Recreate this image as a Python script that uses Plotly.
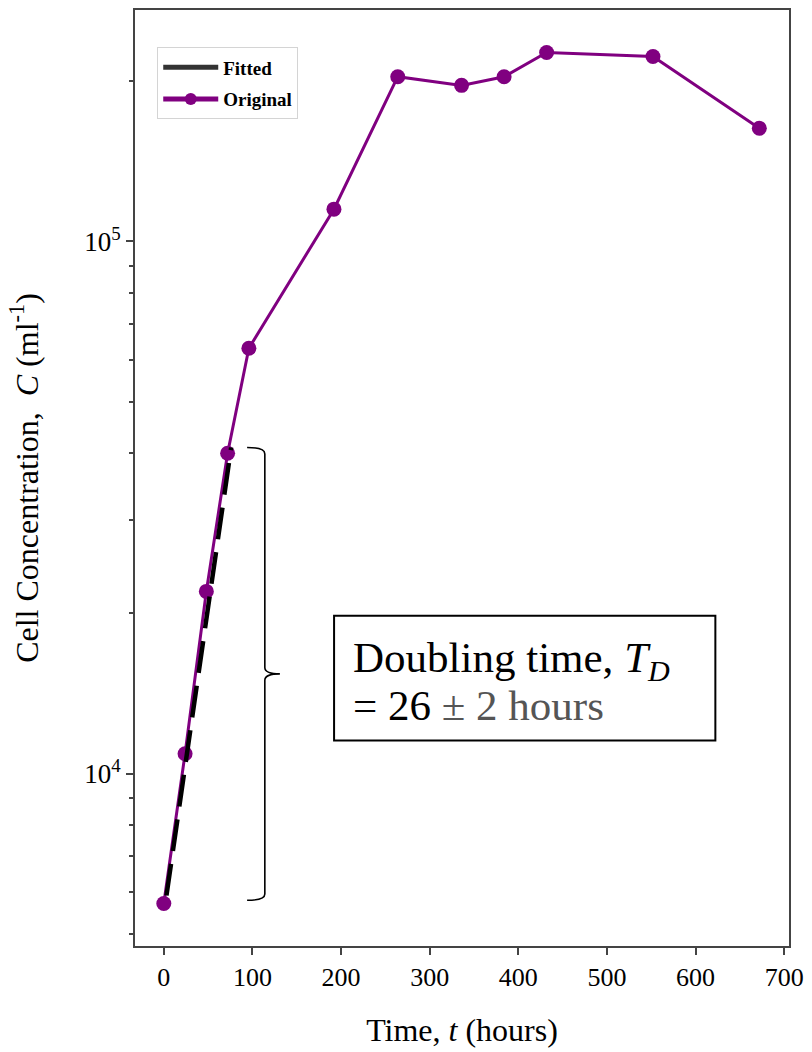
import numpy as np
import plotly.graph_objects as go

# Culture time points (hours) and measured cell concentration (cells per ml)
time_h = [0, 24, 48, 72, 96, 192, 264, 336, 384, 432, 552, 672]
conc_ml = [5700, 10900, 22000, 40000, 63000, 115000, 204000, 196500, 204000, 226500, 222600, 163200]

# Exponential-phase fit, end points of the fitted line
fit_time_h = [3, 76]
fit_conc_ml = [5900, 41000]

# Bracket marking the fitted region: concentration span and time positions
bracket_conc = [5780, 41000]
bracket_time = [94, 114, 131]  # hook ends, spine, tip

x_ticks = [0, 100, 200, 300, 400, 500, 600, 700]
y_ticks = [1e4, 1e5]
y_tick_text = ["10<sup>4</sup>", "10<sup>5</sup>"]
y_minor_ticks = [5000, 6000, 7000, 8000, 9000,
                 20000, 30000, 40000, 50000, 60000, 70000, 80000, 90000, 200000]

x_range = [-32.5, 705.5]
y_range_log = [3.676, 5.435]

SERIF = "Liberation Serif, Times New Roman, serif"
PURPLE = "#800080"
AXIS = "#444444"


def paper_y(c):
    """Concentration -> paper fraction on the log y axis."""
    return (np.log10(c) - y_range_log[0]) / (y_range_log[1] - y_range_log[0])


fig = go.Figure()

# legend sample for the fit (solid), the plotted fit itself is dashed
fig.add_trace(go.Scatter(x=[None], y=[None], mode="lines", name="Fitted",
                         legendgroup="fit",
                         line=dict(color="#333333", width=1.5)))

fig.add_trace(go.Scatter(x=time_h, y=conc_ml, mode="lines+markers", name="Original",
                         legendgroup="orig",
                         line=dict(color=PURPLE, width=3),
                         marker=dict(color=PURPLE, size=15)))

fig.add_trace(go.Scatter(x=fit_time_h, y=fit_conc_ml, mode="lines",
                         showlegend=False,
                         line=dict(color="black", width=4.5, dash="32px,13px")))

# curly bracket beside the fitted segment
yt = paper_y(bracket_conc[1])
yb = paper_y(bracket_conc[0])
ym = (yt + yb) / 2
d = 0.0068
xe, xs, xt = bracket_time
path = (f"M {xe},{yt} Q {xs},{yt} {xs},{yt - d} "
        f"L {xs},{ym + d} Q {xs},{ym} {xt},{ym} "
        f"Q {xs},{ym} {xs},{ym - d} "
        f"L {xs},{yb + d} Q {xs},{yb} {xe},{yb}")
fig.add_shape(type="path", path=path, xref="x", yref="paper",
              line=dict(color="black", width=1.6))

# text box with the doubling time
fig.add_shape(type="rect", xref="paper", yref="paper",
              x0=0.3044, x1=0.8874, y0=0.2196, y1=0.3529,
              line=dict(color="black", width=2), fillcolor="white")
fig.add_annotation(xref="paper", yref="paper", x=0.331, y=0.304,
                   xanchor="left", yanchor="middle", showarrow=False,
                   text="Doubling time, <i>T</i><sub><i>D</i></sub>",
                   font=dict(family=SERIF, size=43, color="black"))
fig.add_annotation(xref="paper", yref="paper", x=0.331, y=0.257,
                   xanchor="left", yanchor="middle", showarrow=False,
                   text="= 26 <span style='color:#555555'>± 2 hours</span>",
                   font=dict(family=SERIF, size=43, color="black"))

fig.update_layout(
    width=812, height=1052,
    margin=dict(l=135, r=20, t=8, b=106),
    plot_bgcolor="white", paper_bgcolor="white",
    font=dict(family=SERIF, color="black"),
    legend=dict(x=0.034, y=0.96, xanchor="left", yanchor="top",
                bgcolor="white", bordercolor="#d4d4d4", borderwidth=1,
                itemsizing="constant", itemwidth=55, tracegroupgap=4,
                font=dict(family=SERIF, size=19, color="black", weight="bold")),
    xaxis=dict(range=x_range, tickvals=x_ticks, ticks="outside", ticklen=7,
               tickwidth=2, tickcolor=AXIS, linecolor=AXIS, linewidth=2,
               mirror=True, showgrid=False, zeroline=False,
               tickfont=dict(family=SERIF, size=26, color="black"),
               title=dict(text="Time, <i>t</i> (hours)", standoff=27,
                          font=dict(family=SERIF, size=32, color="black"))),
    yaxis=dict(type="log", range=y_range_log, tickvals=y_ticks, ticktext=y_tick_text,
               ticks="outside", ticklen=7, tickwidth=2, tickcolor=AXIS,
               linecolor=AXIS, linewidth=2, mirror=True, showgrid=False,
               zeroline=False,
               tickfont=dict(family=SERIF, size=27, color="black"),
               minor=dict(tickvals=y_minor_ticks, ticks="outside", ticklen=4,
                          tickwidth=1.5, tickcolor=AXIS, showgrid=False),
               title=dict(text="Cell Concentration,\u00a0 <i>C</i> (ml<sup>-1</sup>)",
                          standoff=36,
                          font=dict(family=SERIF, size=32, color="black"))),
)

fig.write_html("out.html")
